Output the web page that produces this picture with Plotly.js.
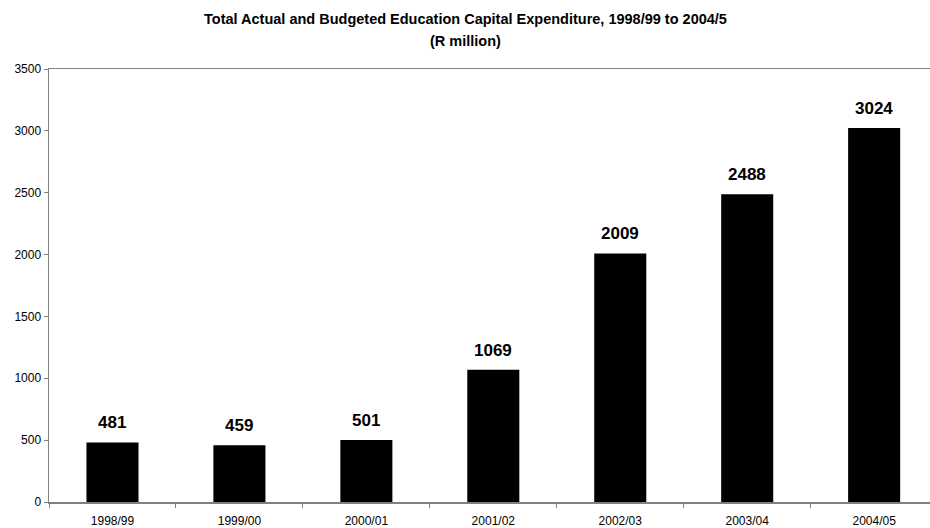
<!DOCTYPE html>
<html>
<head>
<meta charset="utf-8">
<script src="https://cdn.plot.ly/plotly-3.0.1.min.js"></script>
<style>html,body{margin:0;padding:0;background:#fff;}#chart{width:930px;height:528px;}</style>
</head>
<body>
<div id="chart"></div>
<script>
const categories = ["1998/99", "1999/00", "2000/01", "2001/02", "2002/03", "2003/04", "2004/05"];
const expenditure = [481, 459, 501, 1069, 2009, 2488, 3024];
const yTickValues = [0, 500, 1000, 1500, 2000, 2500, 3000, 3500];
const titleLines = ["Total Actual and Budgeted Education Capital Expenditure, 1998/99 to 2004/5", "(R million)"];

const FONT = "Liberation Sans, Arial, sans-serif";
const PLOT_TOP = 69, PLOT_H = 433;

const trace = {
  type: "bar",
  x: categories,
  y: expenditure,
  marker: {color: "#000000", line: {width: 0}},
  width: 0.41,
  hoverinfo: "x+y"
};

const annotations = categories.map((c, i) => ({
  x: c,
  y: expenditure[i],
  xref: "x",
  yref: "y",
  text: "<b>" + expenditure[i] + "</b>",
  showarrow: false,
  yanchor: "bottom",
  yshift: 9,
  borderpad: 0,
  font: {family: FONT, size: 17, color: "#000000"}
}));

// title lines (centres at ~19px and ~41px from the top of the page)
const titleCentres = [19, 41];
titleLines.forEach((t, i) => {
  annotations.push({
    xref: "paper",
    yref: "paper",
    x: 0.5 - 49 / 881 / 2,
    y: 1 + (PLOT_TOP - titleCentres[i]) / PLOT_H,
    xanchor: "center",
    yanchor: "middle",
    showarrow: false,
    borderpad: 0,
    text: "<b>" + t + "</b>",
    font: {family: FONT, size: 14.5, color: "#000000"}
  });
});

const layout = {
  width: 930,
  height: 528,
  paper_bgcolor: "#ffffff",
  plot_bgcolor: "#ffffff",
  margin: {l: 49, r: 0, t: PLOT_TOP, b: 26},
  showlegend: false,
  xaxis: {
    type: "category",
    range: [-0.5, 6.44],
    showline: true,
    linecolor: "#808080",
    linewidth: 1.5,
    mirror: true,
    ticks: "outside",
    tickson: "boundaries",
    ticklen: 4,
    tickcolor: "#808080",
    showgrid: false,
    zeroline: false,
    ticklabelstandoff: 7,
    tickfont: {family: FONT, size: 12, color: "#000000"}
  },
  yaxis: {
    range: [0, 3500],
    tickvals: yTickValues,
    showline: true,
    linecolor: "#808080",
    linewidth: 1.5,
    ticks: "outside",
    ticklen: 4,
    tickcolor: "#808080",
    showgrid: false,
    zeroline: false,
    tickfont: {family: FONT, size: 12, color: "#000000"}
  },
  annotations: annotations
};

Plotly.newPlot("chart", [trace], layout, {displayModeBar: false, staticPlot: true});
</script>
</body>
</html>
